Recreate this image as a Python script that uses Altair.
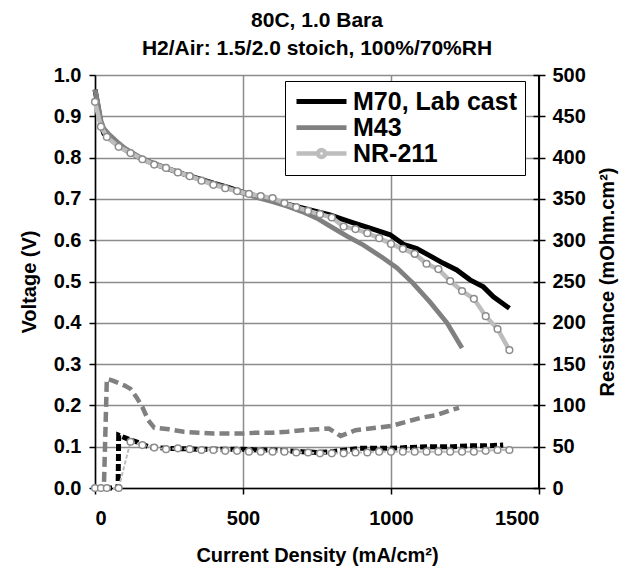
import altair as alt
import pandas as pd

FONT = "Liberation Sans, Arial, Helvetica, sans-serif"

names = ["M70, Lab cast", "M43", "NR-211"]
line_colors = ["#000000", "#808080", "#bdbdbd"]
line_widths = [5, 4.5, 2]
res_dashes = [[7, 3], [10, 5], [4, 2]]

title_lines = ["80C, 1.0 Bara", "H2/Air: 1.5/2.0 stoich, 100%/70%RH"]
x_ticks = [0, 500, 1000, 1500]
v_ticks = [0.0, 0.1, 0.2, 0.3, 0.4, 0.5, 0.6, 0.7, 0.8, 0.9, 1.0]
r_ticks = [0, 50, 100, 150, 200, 250, 300, 350, 400, 450, 500]

# --- polarization curves (Voltage, V) ---
m70_vx = [0, 10, 20, 30, 45, 60, 80, 100, 125, 150, 175, 200, 250, 300, 350, 400,
          450, 500, 550, 600, 650, 700, 750, 794, 840, 873, 929, 997, 1042, 1087,
          1132, 1177, 1222, 1267, 1312, 1346, 1400]
m70_v = [0.965, 0.925, 0.880, 0.858, 0.848, 0.840, 0.830, 0.820, 0.810, 0.800, 0.792,
         0.785, 0.772, 0.760, 0.749, 0.738, 0.728, 0.716, 0.706, 0.697, 0.687, 0.678,
         0.669, 0.661, 0.650, 0.642, 0.629, 0.613, 0.590, 0.580, 0.562, 0.544, 0.528,
         0.504, 0.487, 0.463, 0.435]

m43_vx = [0, 10, 20, 30, 45, 60, 80, 100, 125, 150, 175, 200, 250, 300, 350, 400,
          450, 500, 550, 600, 650, 700, 750, 794, 851, 905, 963, 1020, 1074, 1132,
          1189, 1240]
m43_v = [0.965, 0.930, 0.890, 0.870, 0.858, 0.848, 0.835, 0.823, 0.812, 0.802, 0.793,
         0.786, 0.773, 0.760, 0.748, 0.737, 0.726, 0.714, 0.703, 0.693, 0.682, 0.669,
         0.653, 0.634, 0.610, 0.589, 0.562, 0.533, 0.496, 0.450, 0.400, 0.339]

nr_x = [0, 20, 40, 80, 120, 160, 200, 240, 280, 320, 360, 400, 440, 480, 520, 560,
        600, 640, 680, 720, 760, 800, 840, 880, 920, 960, 1000, 1040, 1080, 1120,
        1160, 1200, 1240, 1280, 1320, 1360, 1400]
nr_v = [0.935, 0.875, 0.850, 0.826, 0.811, 0.796, 0.783, 0.775, 0.764, 0.755, 0.744,
        0.734, 0.726, 0.719, 0.712, 0.707, 0.702, 0.690, 0.680, 0.671, 0.663, 0.655,
        0.633, 0.627, 0.617, 0.605, 0.591, 0.579, 0.567, 0.543, 0.530, 0.501, 0.477,
        0.458, 0.416, 0.385, 0.334]

# --- resistance curves (mOhm.cm2) ---
m70_rx = [0, 30, 60, 78, 80, 100, 120, 140, 160, 180, 200, 250, 300, 350, 400, 450,
          500, 550, 600, 650, 700, 750, 800, 850, 893, 961, 1000, 1053, 1132, 1207,
          1267, 1320, 1379]
m70_r = [0, 0, 0, 0, 64, 61, 58, 56, 53, 50, 49, 48, 47.5, 47, 47, 47, 47, 46, 46, 45,
         44, 43, 44, 46, 48, 48, 48, 49, 50, 50, 51, 51, 52]

m43_rx = [0, 20, 30, 40, 60, 80, 100, 120, 140, 160, 180, 200, 250, 300, 350, 400,
          450, 500, 550, 600, 650, 700, 750, 790, 830, 880, 950, 1000, 1050, 1100,
          1150, 1200, 1230]
m43_r = [0, 0, 0, 132, 130, 127, 124, 120, 110, 98, 82, 73, 71, 68, 67, 66, 66, 66,
         67, 67, 68, 70, 71, 72, 63, 70, 73, 75, 80, 85, 88, 94, 97]

nr_r = [0, 0, 0, 0, 56, 52, 49, 47, 48, 47, 46, 46, 45, 45, 44, 44, 44, 44, 43, 43, 42,
        42, 42, 43, 43, 44, 44, 44, 44, 44, 44, 44, 44, 44, 45, 46, 46]


def frame(xs, ys, name, col):
    return pd.DataFrame({"x": xs, col: ys, "series": name})


volt_df = pd.concat([
    frame(m70_vx, m70_v, names[0], "v"),
    frame(m43_vx, m43_v, names[1], "v"),
    frame(nr_x, nr_v, names[2], "v"),
])
res_frames = [
    frame(m70_rx, m70_r, names[0], "r"),
    frame(m43_rx, m43_r, names[1], "r"),
    frame(nr_x, nr_r, names[2], "r"),
]
nr_volt = frame(nr_x, nr_v, names[2], "v")
nr_res = frame(nr_x, nr_r, names[2], "r")

color_scale = alt.Scale(domain=names, range=line_colors)
width_scale = alt.Scale(domain=names, range=line_widths)

plain_path = "M-5,0H5"
circle_path = "M-5,0H-0.7M0.7,0H5M0.7,0A0.7,0.7 0 1,1 -0.7,0A0.7,0.7 0 1,1 0.7,0"
symbol_expr = "datum.value === 'NR-211' ? '%s' : '%s'" % (circle_path, plain_path)

legend = alt.Legend(
    title=None, orient="none", legendX=190, legendY=6,
    fillColor="white", strokeColor="black", padding=8,
    labelFont=FONT, labelFontSize=25, labelFontWeight="bold", labelColor="black",
    labelLimit=400, labelOffset=19, symbolOffset=16,
    symbolType=alt.ExprRef(expr=symbol_expr),
    symbolSize=100, rowPadding=-3,
)

x_enc = alt.X(
    "x:Q",
    scale=alt.Scale(domain=[0, 1500], nice=False),
    axis=alt.Axis(
        values=x_ticks, format="d", title="Current Density (mA/cm²)",
        grid=True, gridColor="#8c8c8c", gridWidth=1.5,
        domainColor="black", domainWidth=1.5, tickColor="black", tickWidth=1.5,
        tickSize=6, labelPadding=14, titlePadding=17,
    ),
)

v_axis = alt.Axis(
    values=v_ticks, format=".1f", title="Voltage (V)", orient="left",
    grid=True, gridColor="#8c8c8c", gridWidth=1.5,
    domainColor="black", domainWidth=1.5, tickColor="black", tickWidth=1.5,
    tickSize=6, labelPadding=8, titlePadding=14,
)
r_axis = alt.Axis(
    values=r_ticks, format="d", title="Resistance (mOhm.cm²)", orient="right",
    titleAngle=270, grid=False, domain=False, offset=-6,
    tickColor="black", tickWidth=1.5, tickSize=12, labelPadding=7, titlePadding=32,
)

v_scale = alt.Scale(domain=[0, 1], nice=False)
r_scale = alt.Scale(domain=[0, 500], nice=False)

volt_lines = alt.Chart(volt_df).mark_line().encode(
    x=x_enc,
    y=alt.Y("v:Q", scale=v_scale, axis=v_axis),
    color=alt.Color("series:N", scale=color_scale, legend=legend, sort=names),
    strokeWidth=alt.StrokeWidth("series:N", scale=width_scale, legend=legend, sort=names),
    order=alt.Order("x:Q"),
)

volt_points = alt.Chart(nr_volt).mark_point(
    shape="circle", filled=True, fill="white", stroke="#8c8c8c", strokeWidth=1.5,
    size=45, opacity=1
).encode(
    x="x:Q",
    y=alt.Y("v:Q", scale=v_scale),
)

res_layers = []
for i, df in enumerate(res_frames):
    enc = dict(x="x:Q", order=alt.Order("x:Q"))
    if i == 0:
        enc["y"] = alt.Y("r:Q", scale=r_scale, axis=r_axis)
    else:
        enc["y"] = alt.Y("r:Q", scale=r_scale)
    res_layers.append(
        alt.Chart(df).mark_line(
            color=line_colors[i], strokeWidth=line_widths[i],
            strokeDash=res_dashes[i],
        ).encode(**enc)
    )

res_points = alt.Chart(nr_res).mark_point(
    shape="circle", filled=True, fill="white", stroke="#8c8c8c", strokeWidth=1.5,
    size=45, opacity=1
).encode(
    x="x:Q",
    y=alt.Y("r:Q", scale=r_scale),
)

right_edge = alt.Chart(volt_df).mark_rule(color="black", strokeWidth=1.5).encode(
    x=alt.datum(1500)
)

volt = alt.layer(volt_lines, volt_points)
res = alt.layer(*res_layers, res_points)

chart = alt.layer(volt, res, right_edge).resolve_scale(y="independent").properties(
    width=444, height=413,
    autosize=alt.AutoSizeParams(type="none"),
    padding={"left": 87, "top": 67, "right": 84, "bottom": 78},
    title=alt.Title(
        text=title_lines, fontSize=21, font=FONT, fontWeight="bold", anchor="middle",
        offset=6, lineHeight=28, color="black",
    ),
).configure_view(stroke=None).configure_axis(
    labelFont=FONT, labelFontSize=20, labelFontWeight="bold", labelColor="black",
    titleFont=FONT, titleFontSize=20, titleFontWeight="bold", titleColor="black",
)

chart.save("out.html", embed_options={"renderer": "svg", "actions": False})
